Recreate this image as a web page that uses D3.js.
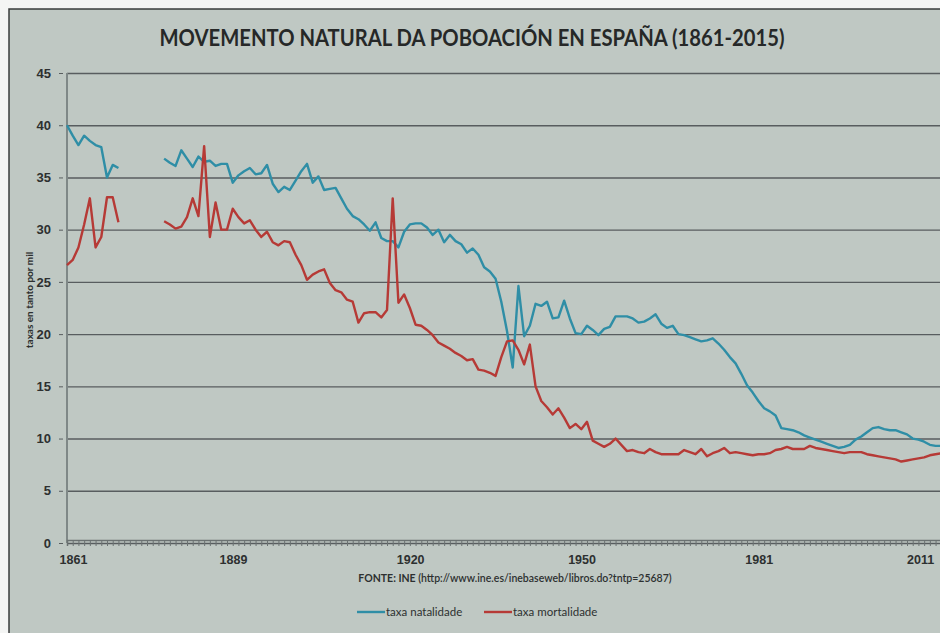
<!DOCTYPE html>
<html lang="gl">
<head>
  <meta charset="UTF-8">
  <title>Movemento natural da poboación en España</title>
  <script src="https://d3js.org/d3.v7.min.js"></script>
  <style>
    html, body { margin: 0; padding: 0; background: #f4f5f4; }
    svg { display: block; font-family: Lato, "Open Sans", sans-serif; }
    .grid line { stroke: #585d5f; stroke-width: 1.4px; }
    .ylab text { font-size: 13px; font-weight: 700; fill: #2d3030; }
    .xlab text { font-size: 12.5px; font-weight: 700; fill: #2d3030; }
  </style>
</head>
<body>
  <div id="chart"></div>
  <script>
    // years 1861-2015; 1871-1877 have no data (null)
    const years = d3.range(1861, 2016);

    const natalidade = [
      40.0, 39.0, 38.1, 39.0, 38.5, 38.1, 37.9, 35.0, 36.2, 35.9,
      null, null, null, null, null, null, null,
      36.8, 36.4, 36.1, 37.6, 36.8, 36.0, 37.0, 36.5, 36.6, 36.1, 36.3, 36.3,
      34.5, 35.2, 35.6, 35.9, 35.3, 35.4, 36.2, 34.4, 33.6, 34.1,
      33.8, 34.7, 35.6, 36.3, 34.5, 35.1, 33.8, 33.9, 34.0, 33.0,
      32.0, 31.3, 31.0, 30.5, 29.9, 30.7, 29.2, 28.9, 28.9, 28.3,
      29.8, 30.5, 30.6, 30.6, 30.2, 29.5, 30.0, 28.8, 29.5, 28.9,
      28.6, 27.8, 28.2, 27.6, 26.4, 26.0, 25.3, 23.1, 20.3, 16.8,
      24.6, 19.8, 20.8, 22.9, 22.7, 23.1, 21.5, 21.6, 23.2, 21.5,
      20.1, 20.0, 20.8, 20.4, 19.9, 20.5, 20.7, 21.7, 21.7, 21.7,
      21.5, 21.1, 21.2, 21.5, 21.9, 21.0, 20.6, 20.8, 20.0, 19.9,
      19.7, 19.5, 19.3, 19.4, 19.6, 19.1, 18.5, 17.8, 17.2, 16.2,
      15.1, 14.4, 13.6, 12.9, 12.6, 12.2, 11.0, 10.9, 10.8, 10.6,
      10.3, 10.1, 9.9, 9.7, 9.5, 9.3, 9.1, 9.2, 9.4, 9.9,
      10.2, 10.6, 11.0, 11.1, 10.9, 10.8, 10.8, 10.6, 10.4, 10.0,
      9.9, 9.7, 9.4, 9.3, 9.3, 9.2
    ];

    const mortalidade = [
      26.6, 27.1, 28.3, 30.5, 33.0, 28.3, 29.3, 33.1, 33.1, 30.7,
      null, null, null, null, null, null, null,
      30.8, 30.5, 30.1, 30.3, 31.2, 33.0, 31.3, 38.0, 29.3, 32.6, 30.0, 30.0,
      32.0, 31.2, 30.6, 30.9, 30.0, 29.3, 29.8, 28.8, 28.5, 28.9,
      28.8, 27.6, 26.6, 25.2, 25.7, 26.0, 26.2, 24.9, 24.2, 24.0,
      23.3, 23.1, 21.1, 22.0, 22.1, 22.1, 21.6, 22.3, 33.0, 23.0,
      23.8, 22.5, 20.9, 20.8, 20.4, 19.9, 19.2, 18.9, 18.6, 18.2,
      17.9, 17.5, 17.6, 16.6, 16.5, 16.3, 16.0, 17.8, 19.3, 19.4,
      18.5, 17.1, 19.0, 15.0, 13.6, 13.0, 12.3, 12.9, 12.0, 11.0,
      11.4, 10.9, 11.6, 9.8, 9.5, 9.2, 9.5, 10.0, 9.4, 8.8,
      8.9, 8.7, 8.6, 9.0, 8.7, 8.5, 8.5, 8.5, 8.5, 8.9,
      8.7, 8.5, 9.0, 8.3, 8.6, 8.8, 9.1, 8.6, 8.7, 8.6,
      8.5, 8.4, 8.5, 8.5, 8.6, 8.9, 9.0, 9.2, 9.0, 9.0,
      9.0, 9.3, 9.1, 9.0, 8.9, 8.8, 8.7, 8.6, 8.7, 8.7,
      8.7, 8.5, 8.4, 8.3, 8.2, 8.1, 8.0, 7.8, 7.9, 8.0,
      8.1, 8.2, 8.4, 8.5, 8.6, 8.7
    ];

    const yTicks = [0, 5, 10, 15, 20, 25, 30, 35, 40, 45];
    const xTickYears = [1861, 1889, 1920, 1950, 1981, 2011];

    const seriesNames = ["taxa natalidade", "taxa mortalidade"];
    const seriesColors = ["#2f8ea6", "#b63a36"];

    const width = 940;
    const height = 633;
    const margin = { top: 73, right: -7, bottom: 90, left: 67 };

    const svg = d3.select("#chart")
      .append("svg")
      .attr("width", width)
      .attr("height", height);

    // chart area (screen photo background)
    svg.append("rect")
      .attr("x", 9).attr("y", 9)
      .attr("width", width + 10).attr("height", height - 4)
      .attr("fill", "#bfc8c3")
      .attr("stroke", "#3a3d3d")
      .attr("stroke-width", 1.5);

    const x = d3.scaleLinear()
      .domain([1861, 2015])
      .range([margin.left, width - margin.right]);

    const y = d3.scaleLinear()
      .domain([0, 45])
      .range([height - margin.bottom, margin.top]);

    // title
    svg.append("text")
      .attr("x", 472)
      .attr("y", 46)
      .attr("text-anchor", "middle")
      .attr("font-size", 22)
      .attr("font-weight", 700)
      .attr("fill", "#262828")
      .attr("textLength", 625)
      .attr("lengthAdjust", "spacingAndGlyphs")
      .text("MOVEMENTO NATURAL DA POBOACIÓN EN ESPAÑA (1861-2015)");

    // horizontal gridlines
    svg.append("g")
      .attr("class", "grid")
      .attr("transform", `translate(${margin.left},0)`)
      .call(d3.axisLeft(y).tickValues(yTicks).tickSize(-(width - margin.left + 20)).tickFormat(""))
      .call(g => g.select(".domain").remove());

    // y axis labels
    svg.append("g")
      .attr("class", "ylab")
      .attr("transform", `translate(${margin.left - 4},0)`)
      .call(d3.axisLeft(y).tickValues(yTicks).tickSize(4).tickPadding(8))
      .call(g => g.select(".domain").remove())
      .call(g => g.selectAll(".tick line").attr("stroke", "#585d5f"));

    // y axis line
    svg.append("line")
      .attr("x1", margin.left).attr("x2", margin.left)
      .attr("y1", y(45)).attr("y2", y(0))
      .attr("stroke", "#7f8887")
      .attr("stroke-width", 2);

    // x axis: yearly minor ticks along the 0 line
    svg.append("g")
      .attr("transform", `translate(0,${y(0) - 3})`)
      .call(d3.axisBottom(x).tickValues(years).tickSize(6).tickFormat(""))
      .call(g => g.select(".domain").attr("stroke", "#6b7272").attr("stroke-width", 1.5))
      .call(g => g.selectAll(".tick line").attr("stroke", "#6b7272").attr("stroke-width", 1));

    svg.append("g")
      .attr("class", "xlab")
      .attr("transform", `translate(6,${y(0) + 4})`)
      .call(d3.axisBottom(x).tickValues(xTickYears).tickSize(0).tickPadding(8).tickFormat(d3.format("d")))
      .call(g => g.select(".domain").remove())
      .call(g => g.selectAll(".tick text").filter(d => d === 2011).attr("dx", -10));

    // y axis title
    svg.append("text")
      .attr("transform", `translate(33,300) rotate(-90)`)
      .attr("text-anchor", "middle")
      .attr("font-size", 10)
      .attr("font-weight", 700)
      .attr("fill", "#2d3030")
      .text("taxas en tanto por mil");

    // lines
    const line = d3.line()
      .defined(d => d[1] !== null)
      .x(d => x(d[0]))
      .y(d => y(d[1]));

    [natalidade, mortalidade].forEach((vals, i) => {
      svg.append("path")
        .datum(years.map((yr, k) => [yr, vals[k]]))
        .attr("fill", "none")
        .attr("stroke", seriesColors[i])
        .attr("stroke-width", 2.4)
        .attr("stroke-linejoin", "round")
        .attr("d", line);
    });

    // source
    const src = svg.append("text")
      .attr("x", 515)
      .attr("y", 582)
      .attr("text-anchor", "middle")
      .attr("font-size", 10.5)
      .attr("fill", "#2d3030");
    src.append("tspan").attr("font-weight", 700).text("FONTE: INE ");
    src.append("tspan").attr("font-weight", 600).text("(http://www.ine.es/inebaseweb/libros.do?tntp=25687)");

    // legend
    const legend = svg.append("g").attr("transform", "translate(357,612)");
    const legendX = [0, 127];
    seriesNames.forEach((name, i) => {
      const g = legend.append("g").attr("transform", `translate(${legendX[i]},0)`);
      g.append("line")
        .attr("x1", 0).attr("x2", 28)
        .attr("stroke", seriesColors[i])
        .attr("stroke-width", 2.4);
      g.append("text")
        .attr("x", 29)
        .attr("y", 4)
        .attr("font-size", 11.5)
        .attr("fill", "#2d3030")
        .text(name);
    });
  </script>
</body>
</html>
